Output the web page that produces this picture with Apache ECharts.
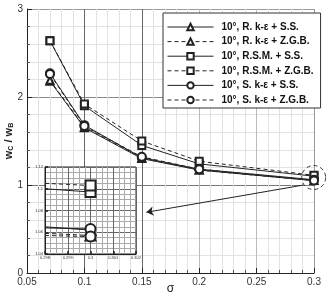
<!DOCTYPE html>
<html>
<head>
<meta charset="utf-8">
<script src="https://cdn.jsdelivr.net/npm/echarts@6/dist/echarts.min.js"></script>
<style>html,body{margin:0;padding:0;background:#fff}#main{width:328px;height:292px}</style>
</head>
<body>
<div id="main"></div>
<script>
// sigma values where the cases were computed
var sigma = [0.07, 0.1, 0.15, 0.2, 0.3];
var names = [
  '10°, R. k-ε + S.S.',
  '10°, R. k-ε + Z.G.B.',
  '10°, R.S.M. + S.S.',
  '10°, R.S.M. + Z.G.B.',
  '10°, S. k-ε + S.S.',
  '10°, S. k-ε + Z.G.B.'
];
var rkeSS   = [2.18, 1.65, 1.30, 1.17, 1.05];
var rkeZGB  = [2.19, 1.66, 1.31, 1.17, 1.05];
var rsmSS   = [2.64, 1.90, 1.45, 1.24, 1.10];
var rsmZGB  = [2.64, 1.92, 1.50, 1.27, 1.11];
var skeSS   = [2.27, 1.68, 1.31, 1.18, 1.06];
var skeZGB  = [2.26, 1.67, 1.32, 1.18, 1.05];

// zoomed inset around sigma = 0.3 (only the 0.3 end carries a marker)
var insetX      = [0.298, 0.3];
var insetRkeSS  = [1.065, 1.062];
var insetRkeZGB = [1.059, 1.057];
var insetRsmSS  = [1.100, 1.097];
var insetRsmZGB = [1.105, 1.103];
var insetSkeSS  = [1.064, 1.063];
var insetSkeZGB = [1.057, 1.056];

// annotation: dashed ring + arrow pointing at the inset
var ringAt = [0.2997, 1.085];
var arrowFrom = [0.291, 1.0];
var arrowTo = [0.154, 0.69];

var ink = '#222';
var font = 'Liberation Sans';

function mk(name, xs, ys, symbol, dashed, idx, size) {
  var data = xs.map(function (x, i) {
    // inset lines enter from the left edge without a marker there
    if (idx && i == 0) return {value: [x, ys[i]], symbol: 'none'};
    return [x, ys[i]];
  });
  return {
    name: name, type: 'line',
    xAxisIndex: idx, yAxisIndex: idx,
    data: data,
    symbol: symbol, symbolSize: size,
    showSymbol: true,
    z: idx ? 6 : 2,
    lineStyle: {color: ink, width: 1, type: dashed ? [4, 3] : 'solid'},
    itemStyle: {color: ink, borderColor: ink, borderWidth: 1},
    emphasis: {disabled: true},
    animation: false
  };
}

var syms = ['emptyTriangle', 'emptyTriangle', 'emptyRect', 'emptyRect', 'emptyCircle', 'emptyCircle'];
var mainData = [rkeSS, rkeZGB, rsmSS, rsmZGB, skeSS, skeZGB];
var insetData = [insetRkeSS, insetRkeZGB, insetRsmSS, insetRsmZGB, insetSkeSS, insetSkeZGB];

var series = [];
mainData.forEach(function (d, i) { series.push(mk(names[i], sigma, d, syms[i], i % 2 == 1, 0, i >= 4 ? 8 : 7)); });
insetData.forEach(function (d, i) { series.push(mk(names[i], insetX, d, syms[i], i % 2 == 1, 1, 10)); });

// arrow and dashed ring hang on the first series
series[0].markLine = {
  silent: true, symbol: ['none', 'arrow'], symbolSize: 7,
  label: {show: false},
  lineStyle: {color: ink, width: 1, type: 'solid'},
  data: [[{coord: arrowFrom}, {coord: arrowTo}]]
};
series[0].markPoint = {
  silent: true, symbol: 'circle', symbolSize: 24,
  label: {show: false},
  itemStyle: {color: 'rgba(0,0,0,0)', borderColor: '#333', borderWidth: 1, borderType: [4, 3]},
  data: [{coord: ringAt}]
};

var option = {
  animation: false,
  grid: [
    {left: 27, right: 14, top: 9, bottom: 19, outerBoundsMode: 'none'},
    {left: 45, top: 167, width: 91, height: 87, outerBoundsMode: 'none', show: true, backgroundColor: '#fff', borderColor: '#222', borderWidth: 1, z: 4}
  ],
  legend: {
    orient: 'vertical', left: 163, top: 13,
    padding: [9, 7, 3, 4], itemWidth: 46, itemHeight: 8, itemGap: 4.6,
    backgroundColor: '#fff', borderColor: '#333', borderWidth: 1,
    lineStyle: {width: 1},
    textStyle: {fontSize: 10, fontWeight: 'bold', color: '#111', fontFamily: font, padding: [0, 0, 0, 3]},
    data: names, selectedMode: false, z: 8
  },
  xAxis: [
    {
      type: 'value', min: 0.05, max: 0.3, interval: 0.05,
      name: 'σ', nameLocation: 'middle', nameGap: 10, nameMoveOverlap: false,
      nameTextStyle: {fontSize: 12, color: '#222', fontFamily: font},
      axisLine: {lineStyle: {color: '#222'}},
      axisTick: {inside: true, length: 5, lineStyle: {color: '#222'}},
      minorTick: {show: true, splitNumber: 5, length: 3, lineStyle: {color: '#555'}},
      axisLabel: {fontSize: 10, color: '#333', fontFamily: font, margin: 4},
      splitLine: {show: true, lineStyle: {color: ['#999', '#666', '#666', '#bbb', '#bbb', '#999'], width: 1}},
      minorSplitLine: {show: true, lineStyle: {color: '#e2e2e2', width: 1}}
    },
    {
      gridIndex: 1, type: 'value', min: 0.298, max: 0.302, interval: 0.001,
      axisLine: {lineStyle: {color: '#222'}},
      axisTick: {inside: true, length: 3, lineStyle: {color: '#222', width: 1.5}},
      minorTick: {show: false, splitNumber: 4},
      axisLabel: {fontSize: 4, color: '#333', fontFamily: font, margin: 2},
      splitLine: {show: true, lineStyle: {color: '#666', width: 1}},
      minorSplitLine: {show: true, lineStyle: {color: '#aaa', width: 1}},
      z: 5
    }
  ],
  yAxis: [
    {
      type: 'value', min: 0, max: 3, interval: 1,
      name: '{a|w}{s|C}{a| / w}{s|B}', nameLocation: 'middle', nameGap: 12, nameRotate: 90, nameMoveOverlap: false,
      nameTextStyle: {
        rich: {
          a: {fontSize: 11, fontWeight: 'bold', color: '#222', fontFamily: font},
          s: {fontSize: 7, fontWeight: 'bold', color: '#222', fontFamily: font, verticalAlign: 'bottom', padding: [5, 0, 0, 0]}
        }
      },
      axisLine: {show: true, lineStyle: {color: '#222'}},
      axisTick: {show: true, inside: true, length: 5, lineStyle: {color: '#222'}},
      minorTick: {show: true, splitNumber: 5, length: 3, lineStyle: {color: '#555'}},
      axisLabel: {fontSize: 10, color: '#333', fontFamily: font, margin: 4},
      splitLine: {show: true, lineStyle: {color: ['#999', '#777', '#888', '#999'], width: 1}},
      minorSplitLine: {show: true, lineStyle: {color: '#e2e2e2', width: 1}}
    },
    {
      gridIndex: 1, type: 'value', min: 1.04, max: 1.12, interval: 0.02,
      axisLine: {show: true, lineStyle: {color: '#222'}},
      axisTick: {show: true, inside: true, length: 3, lineStyle: {color: '#222', width: 1.5}},
      minorTick: {show: false, splitNumber: 4},
      axisLabel: {fontSize: 4, color: '#333', fontFamily: font, margin: 2},
      splitLine: {show: true, lineStyle: {color: '#666', width: 1}},
      minorSplitLine: {show: true, lineStyle: {color: '#aaa', width: 1}},
      z: 5
    }
  ],
  series: series
};

var myChart = echarts.init(document.getElementById('main'), null, {renderer: 'canvas'});
myChart.setOption(option);
</script>
</body>
</html>
